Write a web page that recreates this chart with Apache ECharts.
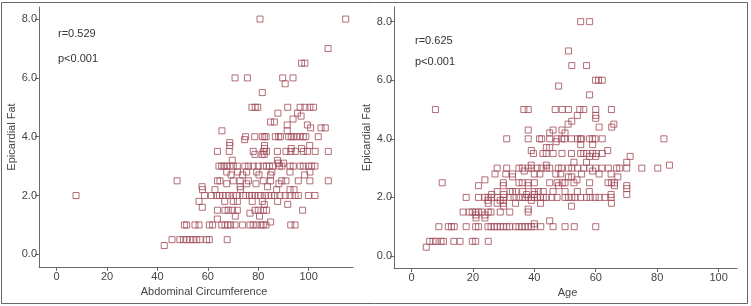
<!DOCTYPE html>
<html>
<head>
<meta charset="utf-8">
<script src="https://cdn.jsdelivr.net/npm/echarts@6/dist/echarts.min.js"></script>
<style>
  html, body { margin: 0; padding: 0; background: #fff; }
  #chart { width: 751px; height: 306px; }
</style>
</head>
<body>
<div id="chart"></div>
<script>
// rows of [epicardial fat, [abdominal circumference values]]
const waistRows = [
  [8.0, [80.7, 114.7]],
  [7.0, [107.7]],
  [6.5, [97.2, 98.5]],
  [6.0, [70.8, 75.7, 89.7, 93.8]],
  [5.8, [90.7]],
  [5.5, [81.6]],
  [5.0, [77.5, 78.8, 79.8, 91.7, 96.6, 98.5, 100.5, 101.9]],
  [4.8, [87.8, 95.6]],
  [4.7, [97.0]],
  [4.6, [93.8]],
  [4.5, [84.9, 86.4]],
  [4.4, [91.5, 99.5]],
  [4.3, [100.8, 104.9, 106.6]],
  [4.2, [65.6, 91.5]],
  [4.0, [75.0, 78.6, 81.6, 82.4, 83.1, 86.8, 88.1, 88.8, 92.1, 93.1, 93.9, 95.2, 96.6, 97.9, 98.9, 103.8]],
  [3.9, [74.6]],
  [3.8, [68.7]],
  [3.7, [68.7, 82.5, 100.4]],
  [3.6, [82.5, 93.1, 97.2]],
  [3.5, [63.8, 68.5, 78.0, 82.0, 83.3, 87.6, 91.0, 92.9, 94.7, 97.9, 99.5, 102.6, 107.8]],
  [3.4, [78.7, 81.5, 82.4]],
  [3.2, [69.7, 87.6]],
  [3.1, [88.0, 90.0]],
  [3.0, [64.4, 65.5, 66.4, 67.5, 68.8, 70.1, 71.7, 74.7, 76.1, 78.0, 80.0, 82.0, 83.3, 84.4, 85.7, 88.4, 89.4, 92.6, 93.9, 96.6, 97.9, 99.9, 101.2, 102.5]],
  [2.8, [67.5, 71.8, 75.4, 79.4, 85.4, 92.6, 100.5]],
  [2.7, [69.2, 73.8, 80.3, 84.9, 98.4]],
  [2.5, [47.8, 63.8, 64.8, 70.1, 72.8, 76.1, 82.0, 84.9, 89.3, 91.0, 95.9, 100.5, 107.8]],
  [2.4, [67.5, 75.4, 79.1, 88.2]],
  [2.3, [57.7, 72.8, 83.7]],
  [2.2, [57.9, 62.8, 73.0, 87.3, 92.6, 94.2]],
  [2.0, [7.7, 58.7, 61.4, 63.5, 64.6, 65.9, 67.2, 68.5, 70.1, 71.4, 74.1, 75.1, 76.5, 77.5, 78.7, 80.0, 81.0, 82.7, 84.0, 85.3, 86.6, 88.6, 90.7, 92.6, 94.6, 95.9, 99.9, 102.5]],
  [1.8, [56.5, 66.7, 70.1, 71.7, 77.6, 81.6, 87.7]],
  [1.7, [82.4, 91.7]],
  [1.6, [57.8]],
  [1.5, [63.8, 66.8, 68.1, 69.8, 71.7, 78.7, 80.0, 82.0, 83.3, 97.6]],
  [1.4, [76.7]],
  [1.3, [70.9, 80.5]],
  [1.2, [63.8]],
  [1.1, [84.9]],
  [1.0, [50.7, 51.6, 54.9, 56.5, 60.6, 61.9, 65.5, 66.8, 67.9, 69.0, 70.8, 73.8, 76.7, 78.0, 79.4, 81.1, 82.0, 83.1, 92.9, 94.6]],
  [0.5, [45.8, 48.9, 50.3, 51.6, 52.9, 54.2, 55.6, 56.9, 59.5, 60.6, 67.7]],
  [0.3, [42.7]]
];

// rows of [epicardial fat, [age values]]
const ageRows = [
  [8.0, [55.1, 58.0]],
  [7.0, [51.1]],
  [6.5, [52.2, 57.0]],
  [6.0, [59.9, 60.9, 62.1]],
  [5.8, [47.9]],
  [5.5, [58.0]],
  [5.0, [7.8, 36.6, 38.0, 46.8, 49.1, 51.1, 54.8, 56.1, 60.0, 65.1]],
  [4.8, [54.0, 60.0]],
  [4.7, [60.0]],
  [4.6, [52.2]],
  [4.5, [51.0, 65.9]],
  [4.4, [61.1, 65.2]],
  [4.3, [38.0, 46.1, 49.0]],
  [4.2, [45.0, 50.0]],
  [4.0, [31.0, 38.0, 41.7, 42.4, 45.0, 47.4, 48.9, 49.8, 52.1, 54.1, 55.0, 55.4, 58.0, 58.9, 59.8, 62.1, 82.2]],
  [3.9, [47.1]],
  [3.8, [55.1, 59.0]],
  [3.7, [43.9, 45.0]],
  [3.6, [39.0, 63.9]],
  [3.5, [39.7, 42.8, 43.9, 46.1, 49.0, 52.1, 55.1, 56.1, 57.1, 59.0, 60.2, 62.1]],
  [3.4, [58.0, 60.0, 71.2]],
  [3.2, [52.9, 57.0, 70.1]],
  [3.1, [39.0, 43.9, 84.0]],
  [3.0, [27.9, 31.0, 35.0, 36.1, 38.0, 39.1, 40.9, 42.4, 43.9, 45.0, 47.8, 48.9, 51.1, 52.2, 54.1, 56.1, 58.0, 60.0, 62.0, 64.1, 66.8, 67.8, 70.1, 75.0, 80.2]],
  [2.9, [36.7, 59.0]],
  [2.8, [27.2, 30.7, 32.9, 40.0, 41.8, 47.0, 48.6, 55.4, 61.1, 65.0]],
  [2.7, [32.9, 51.1, 52.2, 67.2]],
  [2.6, [23.9, 53.9]],
  [2.5, [10.0, 29.9, 35.0, 36.1, 38.0, 40.0, 45.0, 47.4, 49.1, 50.0, 52.9, 58.0, 64.0, 65.1, 66.1]],
  [2.4, [21.8, 29.9, 38.0, 47.9, 66.1, 70.1]],
  [2.3, [70.1]],
  [2.2, [27.9, 32.1, 32.9, 34.0, 36.2, 40.0, 41.3, 42.9, 46.1, 50.0, 54.0, 57.9]],
  [2.1, [26.1, 30.0, 37.5, 40.0, 65.0, 70.1]],
  [2.0, [17.8, 21.8, 23.9, 25.0, 26.1, 27.9, 30.0, 32.1, 33.4, 35.0, 36.1, 37.0, 38.0, 39.0, 40.0, 41.1, 42.0, 42.9, 43.9, 45.7, 47.4, 50.0, 51.1, 52.2, 53.3, 55.1, 57.0, 58.2, 59.8, 61.1, 63.0, 65.0]],
  [1.9, [24.9, 28.9, 29.9, 39.0]],
  [1.8, [25.0, 27.9, 29.9, 33.9, 42.0, 65.1]],
  [1.7, [30.0, 52.1]],
  [1.6, [38.0]],
  [1.5, [16.8, 18.8, 19.8, 20.9, 21.8, 22.9, 25.0, 25.9, 28.9, 32.0, 38.0]],
  [1.4, [21.0, 23.9]],
  [1.3, [21.0, 23.9]],
  [1.2, [45.0]],
  [1.1, [40.0]],
  [1.0, [8.9, 12.0, 13.0, 13.9, 17.8, 20.9, 21.8, 24.9, 25.9, 27.0, 27.9, 28.9, 29.9, 31.0, 32.0, 33.9, 35.0, 36.0, 37.0, 38.0, 39.0, 40.0, 42.1, 46.1, 50.0, 53.0, 60.0]],
  [0.5, [5.9, 7.0, 8.0, 9.6, 10.4, 13.8, 15.8, 19.8, 20.9, 25.0]],
  [0.3, [4.8]]
];

const xTicks = [0, 20, 40, 60, 80, 100];
const yTicks = [0, 2, 4, 6, 8];
const waistStats = ["r=0.529", "p<0.001"];
const ageStats = ["r=0.625", "p<0.001"];

const toPoints = (rows) => rows.flatMap(([y, xs]) => xs.map((x) => [x, y]));

const font = "Liberation Sans, Arial, sans-serif";
const axisColor = "#6b6b6b";
const labelColor = "#444";

const makeX = (idx, name, min, max, namePad) => ({
  gridIndex: idx,
  type: "value",
  min: min,
  max: max,
  name: name,
  nameLocation: "middle",
  nameGap: 19,
  nameTextStyle: { color: labelColor, fontSize: 11, fontFamily: font, padding: namePad },
  axisLine: { show: true, onZero: false, lineStyle: { color: axisColor } },
  axisTick: { show: true, length: 4, customValues: xTicks, lineStyle: { color: axisColor } },
  axisLabel: { customValues: xTicks, color: labelColor, fontSize: 11, fontFamily: font, margin: 4 },
  splitLine: { show: false },
});

const makeY = (idx, min, max) => ({
  gridIndex: idx,
  type: "value",
  min: min,
  max: max,
  name: "Epicardial Fat",
  nameLocation: "middle",
  nameGap: 20,
  nameTextStyle: { color: labelColor, fontSize: 11, fontFamily: font },
  axisLine: { show: true, onZero: false, lineStyle: { color: axisColor } },
  axisTick: { show: true, length: 4, customValues: yTicks, lineStyle: { color: axisColor } },
  axisLabel: {
    customValues: yTicks,
    color: labelColor,
    fontSize: 11,
    fontFamily: font,
    margin: 2,
    formatter: (v) => v.toFixed(1),
  },
  splitLine: { show: false },
});

const markerStyle = {
  color: "rgba(255,255,255,0)",
  borderColor: "#a04b58",
  borderWidth: 1,
};

const statText = (left, top, text) => ({
  type: "text",
  left: left,
  top: top,
  style: { text: text, fill: "#333", font: "11px " + font },
});

const chart = echarts.init(document.getElementById("chart"), null, { renderer: "canvas" });
chart.setOption({
  animation: false,
  backgroundColor: "#fff",
  grid: [
    { left: 39, top: 7, width: 314, bottom: 39 },
    { left: 394, top: 7, width: 343, bottom: 38 },
  ],
  xAxis: [
    makeX(0, "Abdominal Circumference", -7, 117.6, [0, 0, 0, 16]),
    makeX(1, "Age", -5.7, 106, [0, 0, 0, 4]),
  ],
  yAxis: [makeY(0, -0.43, 8.41), makeY(1, -0.41, 8.5)],
  series: [
    {
      type: "scatter",
      xAxisIndex: 0,
      yAxisIndex: 0,
      symbol: "rect",
      symbolSize: 6,
      itemStyle: markerStyle,
      data: toPoints(waistRows),
    },
    {
      type: "scatter",
      xAxisIndex: 1,
      yAxisIndex: 1,
      symbol: "rect",
      symbolSize: 6,
      itemStyle: markerStyle,
      data: toPoints(ageRows),
    },
  ],
  graphic: [
    {
      type: "rect",
      shape: { x: 1.5, y: 2.5, width: 746, height: 301 },
      style: { fill: "none", stroke: "#666", lineWidth: 1 },
      silent: true,
    },
    statText(58, 28, waistStats[0]),
    statText(58, 53, waistStats[1]),
    statText(415, 35, ageStats[0]),
    statText(415, 56, ageStats[1]),
  ],
});
</script>
</body>
</html>
